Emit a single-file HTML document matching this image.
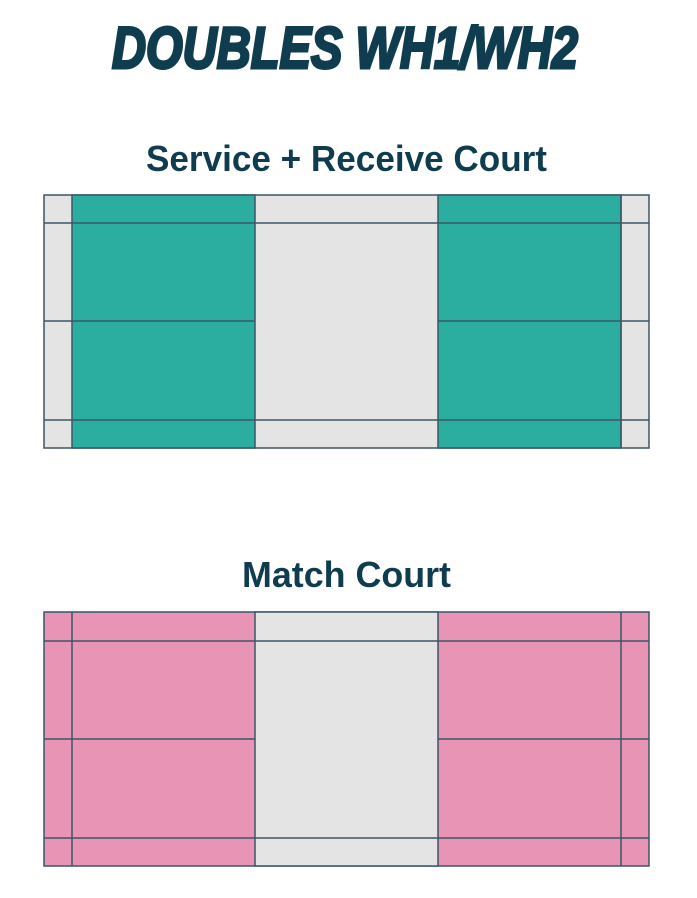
<!DOCTYPE html>
<html><head><style>html,body{margin:0;padding:0;background:#fff}</style></head>
<body>
<svg width="697" height="893" viewBox="0 0 697 893" xmlns="http://www.w3.org/2000/svg">
<text x="112" y="68" font-family="Liberation Sans, sans-serif" font-weight="bold" font-style="italic" font-size="58" fill="#0f3d4f" stroke="#0f3d4f" stroke-width="3" textLength="466" lengthAdjust="spacingAndGlyphs">DOUBLES WH1/WH2</text>
<text x="146" y="171" font-family="Liberation Sans, sans-serif" font-weight="bold" font-size="36" fill="#0f3d4f" textLength="401" lengthAdjust="spacingAndGlyphs">Service + Receive Court</text>
<text x="242" y="587" font-family="Liberation Sans, sans-serif" font-weight="bold" font-size="36" fill="#0f3d4f" textLength="209" lengthAdjust="spacingAndGlyphs">Match Court</text>

<g stroke="#3b5766" stroke-width="1.5">
<rect x="44" y="195" width="605" height="253" fill="#e4e4e4"/>
<rect x="72" y="195" width="183" height="253" fill="#2bae9f"/>
<rect x="438" y="195" width="183" height="253" fill="#2bae9f"/>
<line x1="44" y1="223" x2="649" y2="223"/>
<line x1="44" y1="420" x2="649" y2="420"/>
<line x1="44" y1="321" x2="255" y2="321"/>
<line x1="438" y1="321" x2="649" y2="321"/>
<line x1="621" y1="195" x2="621" y2="448"/>
</g>

<g stroke="#3b5766" stroke-width="1.5">
<rect x="44" y="612" width="605" height="254" fill="#e895b5"/>
<rect x="255" y="612" width="183" height="254" fill="#e4e4e4"/>
<line x1="44" y1="641" x2="649" y2="641"/>
<line x1="44" y1="838" x2="649" y2="838"/>
<line x1="44" y1="739" x2="255" y2="739"/>
<line x1="438" y1="739" x2="649" y2="739"/>
<line x1="72" y1="612" x2="72" y2="866"/>
<line x1="621" y1="612" x2="621" y2="866"/>
</g>
</svg>
</body></html>
